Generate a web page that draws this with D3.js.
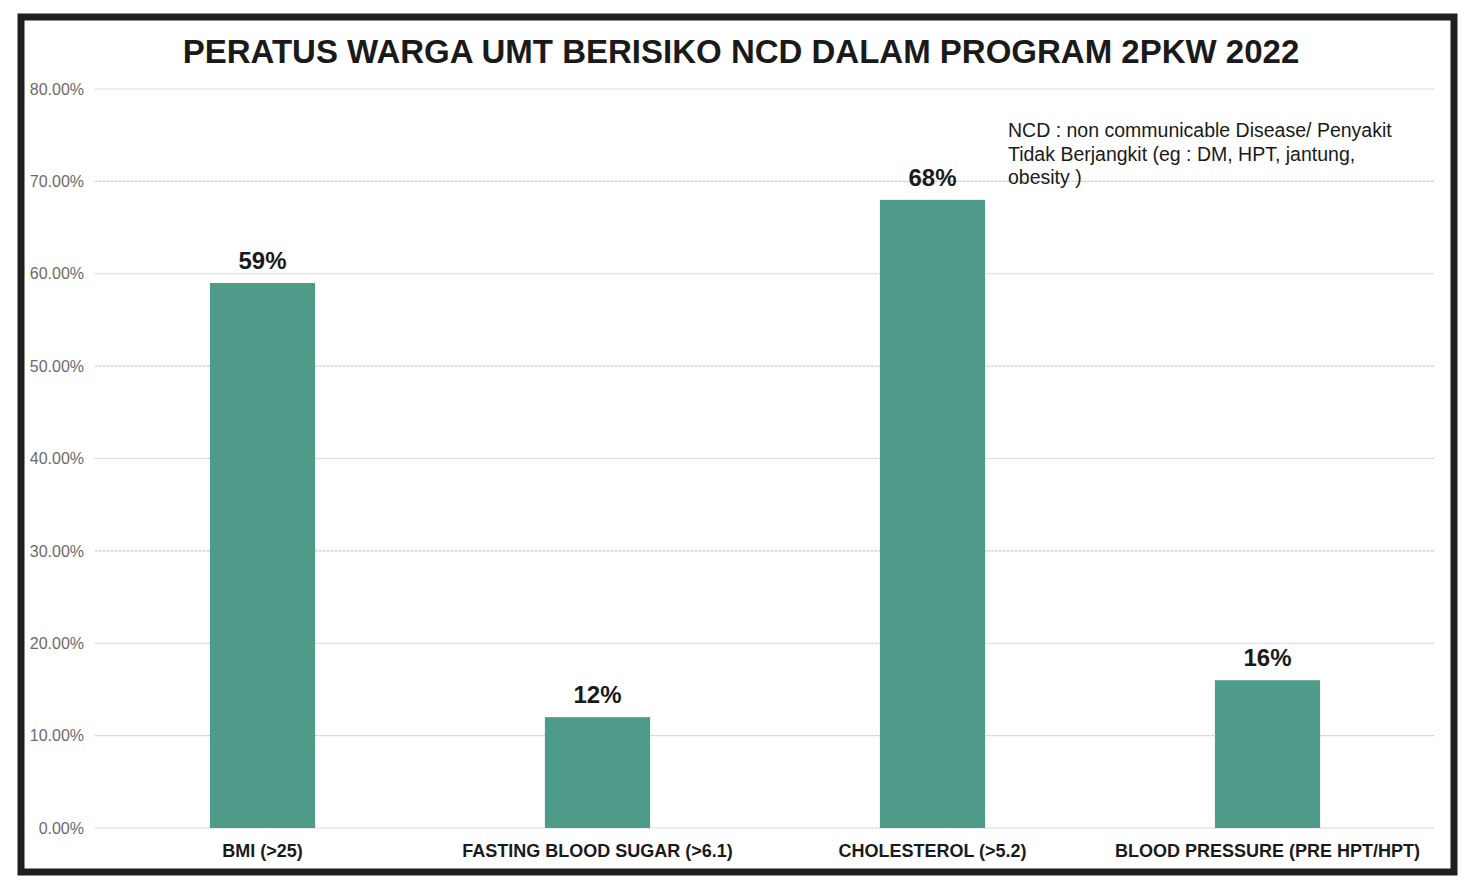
<!DOCTYPE html>
<html>
<head>
<meta charset="utf-8">
<script src="https://cdn.jsdelivr.net/npm/d3@7"></script>
<style>
  body { margin: 0; background: #fff; }
  svg { font-family: "Liberation Sans", Arial, sans-serif; }
  .y-axis text { fill: #6b6b6b; font-size: 16px; }
  .y-axis path, .y-axis line { display: none; }
  .grid line { stroke: #cfcfcf; stroke-width: 1.2; stroke-dasharray: 3 1; }
  .x-label { font-size: 18px; font-weight: bold; fill: #1a1a1a; }
  .value { font-size: 24px; font-weight: bold; fill: #1a1a1a; }
</style>
</head>
<body>
<svg id="chart"></svg>
<script>
/* ---------- data ---------- */
const categories = ["BMI (>25)", "FASTING BLOOD SUGAR (>6.1)", "CHOLESTEROL (>5.2)", "BLOOD PRESSURE (PRE HPT/HPT)"];
const values = [0.59, 0.12, 0.68, 0.16];
const valueLabels = ["59%", "12%", "68%", "16%"];
const yTicks = [0, 0.1, 0.2, 0.3, 0.4, 0.5, 0.6, 0.7, 0.8];
const title = "PERATUS WARGA UMT BERISIKO NCD DALAM PROGRAM 2PKW 2022";
const noteLines = ["NCD : non communicable  Disease/ Penyakit", "Tidak Berjangkit (eg : DM, HPT, jantung,", "obesity )"];

/* ---------- layout ---------- */
const W = 1464, H = 881;
const plot = {left: 95, right: 1435, top: 89, bottom: 828};
const barColour = "#4f9b8a";

const svg = d3.select("#chart").attr("width", W).attr("height", H);

// frame
svg.append("rect")
    .attr("x", 21).attr("y", 17).attr("width", 1433).attr("height", 855)
    .attr("fill", "#fff").attr("stroke", "#1f1f1f").attr("stroke-width", 7);

/* ---------- scales & axes ---------- */
const x = d3.scaleBand().domain(categories).range([plot.left, plot.right])
    .paddingInner(0.686).paddingOuter(0.343);
const y = d3.scaleLinear().domain([0, 0.8]).range([plot.bottom, plot.top]);

// gridlines
svg.append("g").attr("class", "grid")
    .selectAll("line").data(yTicks).join("line")
    .attr("x1", plot.left).attr("x2", plot.right)
    .attr("y1", d => y(d)).attr("y2", d => y(d));

svg.append("g").attr("class", "y-axis")
    .attr("transform", `translate(${plot.left - 9},0)`)
    .call(d3.axisLeft(y).tickValues(yTicks).tickSize(0).tickPadding(2).tickFormat(d3.format(".2%")));

/* ---------- bars ---------- */
const rows = categories.map((c, i) => ({cat: c, v: values[i], lab: valueLabels[i]}));

svg.append("g").selectAll("rect").data(rows).join("rect")
    .attr("x", d => x(d.cat)).attr("width", x.bandwidth())
    .attr("y", d => y(d.v)).attr("height", d => y(0) - y(d.v))
    .attr("fill", barColour);

svg.append("g").selectAll("text").data(rows).join("text")
    .attr("class", "value")
    .attr("x", d => x(d.cat) + x.bandwidth() / 2)
    .attr("y", d => y(d.v) - 14)
    .attr("text-anchor", "middle")
    .text(d => d.lab);

svg.append("g").selectAll("text").data(categories).join("text")
    .attr("class", "x-label")
    .attr("x", d => x(d) + x.bandwidth() / 2)
    .attr("y", plot.bottom + 29)
    .attr("text-anchor", "middle")
    .text(d => d);

/* ---------- title & note ---------- */
svg.append("text")
    .attr("x", 741).attr("y", 63)
    .attr("text-anchor", "middle")
    .attr("font-size", 33).attr("font-weight", "bold").attr("fill", "#1a1a1a")
    .text(title);

svg.append("text")
    .attr("x", 1008).attr("y", 137)
    .attr("font-size", 19.5).attr("fill", "#1a1a1a")
    .selectAll("tspan").data(noteLines).join("tspan")
    .attr("x", 1008).attr("dy", (d, i) => i ? 23.5 : 0)
    .text(d => d);
</script>
</body>
</html>
